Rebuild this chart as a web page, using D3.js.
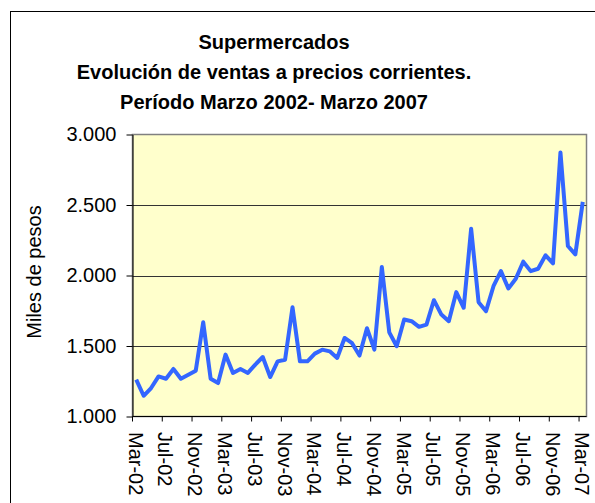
<!DOCTYPE html>
<html>
<head>
<meta charset="utf-8">
<script src="https://cdn.jsdelivr.net/npm/d3@7"></script>
<style>
    body { margin: 0; background: #fff; }
    svg { display: block; font-family: "Liberation Sans", Arial, sans-serif; }
</style>
</head>
<body>
<svg id="chart" width="595" height="503"></svg>
<script>
// monthly sales, Mar-02 .. Mar-07 (thousands of pesos)
const ventas = [1261, 1147, 1202, 1284, 1268, 1337, 1268, 1296, 1325, 1668,
    1268, 1237, 1439, 1309, 1337, 1309, 1368, 1422, 1280, 1391,
    1403, 1775, 1391, 1391, 1446, 1474, 1462, 1415, 1557, 1520,
    1432, 1626, 1474, 2060, 1597, 1498, 1688, 1676, 1636, 1652,
    1825, 1723, 1676, 1882, 1771, 2332, 1811, 1747, 1924, 2031,
    1908, 1977, 2098, 2031, 2048, 2143, 2086, 2873, 2209, 2150, 2522];

const meses = ["Ene", "Feb", "Mar", "Abr", "May", "Jun", "Jul", "Ago", "Sep", "Oct", "Nov", "Dic"];
const tickLabels = ["Mar-02", "Jul-02", "Nov-02", "Mar-03", "Jul-03", "Nov-03", "Mar-04", "Jul-04",
    "Nov-04", "Mar-05", "Jul-05", "Nov-05", "Mar-06", "Jul-06", "Nov-06", "Mar-07"];
const yTicks = [1000, 1500, 2000, 2500, 3000];
const titulo = ["Supermercados", "Evolución de ventas a precios corrientes.", "Período Marzo 2002- Marzo 2007"];

// categories: one per month starting at Mar-02
const categorias = [];
for (let i = 0; i < ventas.length; i++) {
    const m = (2 + i) % 12;
    const yy = 2 + Math.floor((2 + i) / 12);
    categorias.push(meses[m] + "-" + String(yy).padStart(2, "0"));
}

const svg = d3.select("#chart");
const plot = { left: 132.5, right: 586.5, top: 134.5, bottom: 416.5 };

// outer chart frame
svg.append("rect")
    .attr("x", 10.5).attr("y", 11.5)
    .attr("width", 620).attr("height", 520)
    .attr("fill", "#fff").attr("stroke", "#000").attr("stroke-width", 1);

// title
svg.append("g").selectAll("text")
    .data(titulo)
    .enter().append("text")
    .attr("x", 274)
    .attr("y", (d, i) => 48.5 + i * 30)
    .attr("text-anchor", "middle")
    .attr("font-size", "20px")
    .attr("font-weight", "bold")
    .text(d => d);

const x = d3.scaleBand().domain(categorias).range([plot.left, plot.right]).padding(0);
const y = d3.scaleLinear().domain([1000, 3000]).range([plot.bottom, plot.top]);

// plot area
svg.append("rect")
    .attr("x", plot.left).attr("y", plot.top)
    .attr("width", plot.right - plot.left).attr("height", plot.bottom - plot.top)
    .attr("fill", "#ffffcc").attr("stroke", "#808080").attr("stroke-width", 1.5);

// gridlines
svg.append("g")
    .selectAll("line")
    .data(yTicks.slice(1, -1))
    .enter().append("line")
    .attr("x1", plot.left).attr("x2", plot.right)
    .attr("y1", d => Math.round(y(d)) + 0.5).attr("y2", d => Math.round(y(d)) + 0.5)
    .attr("stroke", "#333").attr("stroke-width", 1);

// y axis
const yAxis = svg.append("g")
    .attr("transform", `translate(${plot.left},0)`)
    .call(d3.axisLeft(y).tickValues(yTicks).tickSize(6).tickPadding(10).tickSizeOuter(0)
        .tickFormat(d => d3.format(",")(d).replace(",", ".")));
yAxis.select(".domain").attr("stroke", "#000");
yAxis.selectAll("text").attr("font-size", "20px").attr("fill", "#000");
yAxis.attr("font-family", null).attr("font-size", null);

// x axis: tick marks between categories
const tickCats = categorias.filter((d, i) => i % 4 === 0);
const xAxis = svg.append("g")
    .attr("transform", `translate(${-x.bandwidth() / 2},${plot.bottom})`)
    .call(d3.axisBottom(x).tickValues(tickCats).tickSize(5).tickSizeOuter(0).tickFormat(""));
xAxis.select(".domain").remove();
svg.append("line")
    .attr("x1", plot.left).attr("x2", plot.right)
    .attr("y1", plot.bottom).attr("y2", plot.bottom)
    .attr("stroke", "#000");

// x labels, rotated
svg.append("g").selectAll("text")
    .data(tickCats)
    .enter().append("text")
    .attr("transform", d => `translate(${x(d) + x.bandwidth() / 2 - 0.5},432) rotate(90)`)
    .attr("dy", "0.35em")
    .attr("font-size", "20px")
    .text((d, i) => tickLabels[i]);

// y axis title
svg.append("text")
    .attr("transform", "translate(41,272) rotate(-90)")
    .attr("text-anchor", "middle")
    .attr("font-size", "20px")
    .text("Miles de pesos");

// series line
const line = d3.line()
    .x((d, i) => x(categorias[i]) + x.bandwidth() / 2)
    .y(d => y(d));

svg.append("path")
    .datum(ventas)
    .attr("fill", "none")
    .attr("stroke", "#3366ff")
    .attr("stroke-width", 4)
    .attr("stroke-linejoin", "round")
    .attr("d", line);
</script>
</body>
</html>
